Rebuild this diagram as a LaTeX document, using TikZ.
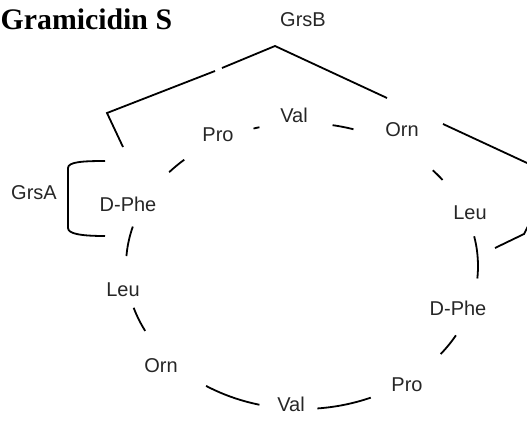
\documentclass[tikz,border=0pt]{standalone}
\usepackage{fontspec}
\setmainfont{Liberation Sans}
\newfontfamily\titlefont{Liberation Serif}
\definecolor{labelgray}{HTML}{262626}
\begin{document}
\begin{tikzpicture}[x=1pt,y=-1pt,
  lbl/.style={inner sep=0pt, text=labelgray, font=\fontsize{20}{22}\selectfont},
  ln/.style={draw=black, line width=1.8pt},
  ring/.style={ln, line cap=butt}]
\useasboundingbox (0,0) rectangle (527,422);
\clip (0,0) rectangle (527,422);
% title
\node[anchor=base west, inner sep=0pt, font=\titlefont\bfseries\fontsize{29.8}{33}\selectfont] (title) at (0.5,30) {Gramicidin S};
% labels
\node[lbl] (grsb) at (303,20) {GrsB};
\node[lbl] (grsa) at (34,193) {GrsA};
\node[lbl] (pro1) at (218,135) {Pro};
\node[lbl] (val1) at (294,115) {Val};
\node[lbl] (orn1) at (402,130) {Orn};
\node[lbl] (leu1) at (470,213) {Leu};
\node[lbl] (phe1) at (458,308) {D-Phe};
\node[lbl] (pro2) at (407,385) {Pro};
\node[lbl] (val2) at (291,404) {Val};
\node[lbl] (orn2) at (161,366) {Orn};
\node[lbl] (leu2) at (123,290) {Leu};
\node[lbl] (phe2) at (128,204) {D-Phe};
% ring segments (ellipse centre 302,266; rx 176; ry 143)
\foreach \a/\b in {132/139, 104/106, 73/80, 37/42, -5/12, -38/-29, -85/-67, -123/-104, -163/-153, 164/176}{
  \draw[ring] plot[domain=\a:\b, samples=12, smooth] ({302+176*cos(\x)},{266-143*sin(\x)});
}
% GrsB bracket
\coordinate (b1) at (123,147);
\coordinate (b2) at (107,113);
\coordinate (b3) at (215,71);
\coordinate (b4) at (222,68);
\coordinate (b5) at (275,46);
\coordinate (b6) at (387,98);
\draw[ln, line join=miter] (b1) -- (b2) -- (b3);
\draw[ln, line join=miter] (b4) -- (b5) -- (b6);
% GrsA bracket
\coordinate (a1) at (105,161);
\coordinate (a2) at (68,168);
\coordinate (a3) at (68,228);
\coordinate (a4) at (105,236);
\draw[ln] (a1) .. controls (82,161) and (68,162) .. (a2) -- (a3) .. controls (68,234) and (82,236) .. (a4);
% right bracket (clipped at edge)
\coordinate (r1) at (443,124);
\coordinate (r2) at (540,169);
\coordinate (r3) at (495,248);
\coordinate (r4) at (524,234);
\coordinate (r5) at (530,222);
\draw[ln] (r1) -- (r2);
\draw[ln, line join=miter] (r3) -- (r4) -- (r5);
\end{tikzpicture}
\end{document}
